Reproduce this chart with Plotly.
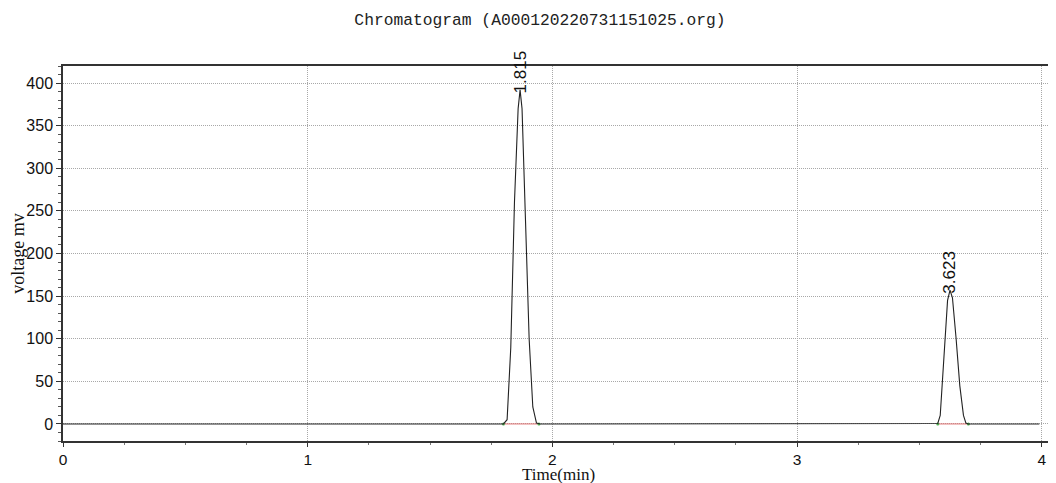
import plotly.graph_objects as go

# Chromatogram trace points (time in min, voltage in mV)
time_min = [0.0, 1.70, 1.76, 1.80, 1.815, 1.83, 1.845, 1.86, 1.868, 1.876, 1.89, 1.905, 1.92, 1.935, 1.95,
            3.55, 3.575, 3.585, 3.60, 3.615, 3.625, 3.635, 3.65, 3.665, 3.68, 3.69, 3.70, 3.99]
voltage_mv = [0.0, 0.0, 0.5, 0.0, 5.0, 90.0, 260.0, 370.0, 392.0, 370.0, 240.0, 100.0, 20.0, 1.0, 0.0,
              0.0, 0.5, 10.0, 80.0, 145.0, 157.0, 148.0, 100.0, 45.0, 10.0, 1.0, 0.0, 0.0]

peak_times = [1.868, 3.625]
peak_heights = [392.0, 157.0]
peak_labels = ["1.815", "3.623"]
baseline_starts = [1.80, 3.575]
baseline_ends = [1.945, 3.70]

x_ticks = [0, 1, 2, 3, 4]
y_ticks = [0, 50, 100, 150, 200, 250, 300, 350, 400]

fig = go.Figure()

# baseline segments (red) under each peak
for s, e in zip(baseline_starts, baseline_ends):
    fig.add_trace(go.Scatter(x=[s, e], y=[0, 0], mode="lines",
                             line=dict(color="#e07070", width=1), hoverinfo="skip", showlegend=False))
    fig.add_trace(go.Scatter(x=[s, e], y=[0, 0], mode="markers",
                             marker=dict(color="#4caf50", size=3), hoverinfo="skip", showlegend=False))

fig.add_trace(go.Scatter(x=time_min, y=voltage_mv, mode="lines",
                         line=dict(color="#222222", width=1.1), showlegend=False))

for t, h, lab in zip(peak_times, peak_heights, peak_labels):
    fig.add_annotation(x=t, y=h, text=lab, showarrow=False, textangle=-90,
                       xanchor="center", yanchor="bottom", yshift=-6,
                       font=dict(family="Liberation Sans, Arial", size=17, color="#111111"))

# x-axis title placed just under the tick labels
fig.add_annotation(x=0.5, y=0, xref="paper", yref="paper", text="Time(min)", showarrow=False,
                   xanchor="center", yanchor="top", yshift=-23, borderpad=0,
                   font=dict(family="Liberation Serif, Times New Roman", size=17, color="#111"))

fig.update_layout(
    width=1048, height=475,
    margin=dict(l=55, r=2, t=58, b=42, autoexpand=False),
    paper_bgcolor="white", plot_bgcolor="white",
    title=dict(text="Chromatogram (A000120220731151025.org)", x=532 / 1048, xanchor="center",
               y=1 - 11 / 475, yanchor="middle",
               font=dict(family="Liberation Mono, DejaVu Sans Mono", size=16.3, color="#222222")),
    xaxis=dict(range=[0, 4.05], tickvals=x_ticks, ticks="outside", ticklen=4, tickcolor="#333",
               showline=True, linecolor="#333", linewidth=1.5, mirror=True, automargin=False,
               showgrid=True, gridcolor="#a8a8a8", griddash="1px,1px", gridwidth=1, zeroline=False,
               tickfont=dict(family="Liberation Sans, Arial", size=15.5, color="#111"),
               minor=dict(dtick=0.25, ticks="outside", ticklen=2, tickcolor="#777", showgrid=False)),
    yaxis=dict(range=[-20, 420], tickvals=y_ticks, ticks="outside", ticklen=5, tickcolor="#333",
               showline=True, linecolor="#333", linewidth=1.5, mirror=True, automargin=False,
               showgrid=True, gridcolor="#a8a8a8", griddash="1px,1px", gridwidth=1, zeroline=False,
               tickfont=dict(family="Liberation Sans, Arial", size=16, color="#111"),
               minor=dict(dtick=10, ticks="outside", ticklen=3, tickcolor="#555", showgrid=False),
               title=dict(text="voltage mv", standoff=0,
                          font=dict(family="Liberation Serif, Times New Roman", size=18, color="#111"))),
)

fig.write_html("out.html")
